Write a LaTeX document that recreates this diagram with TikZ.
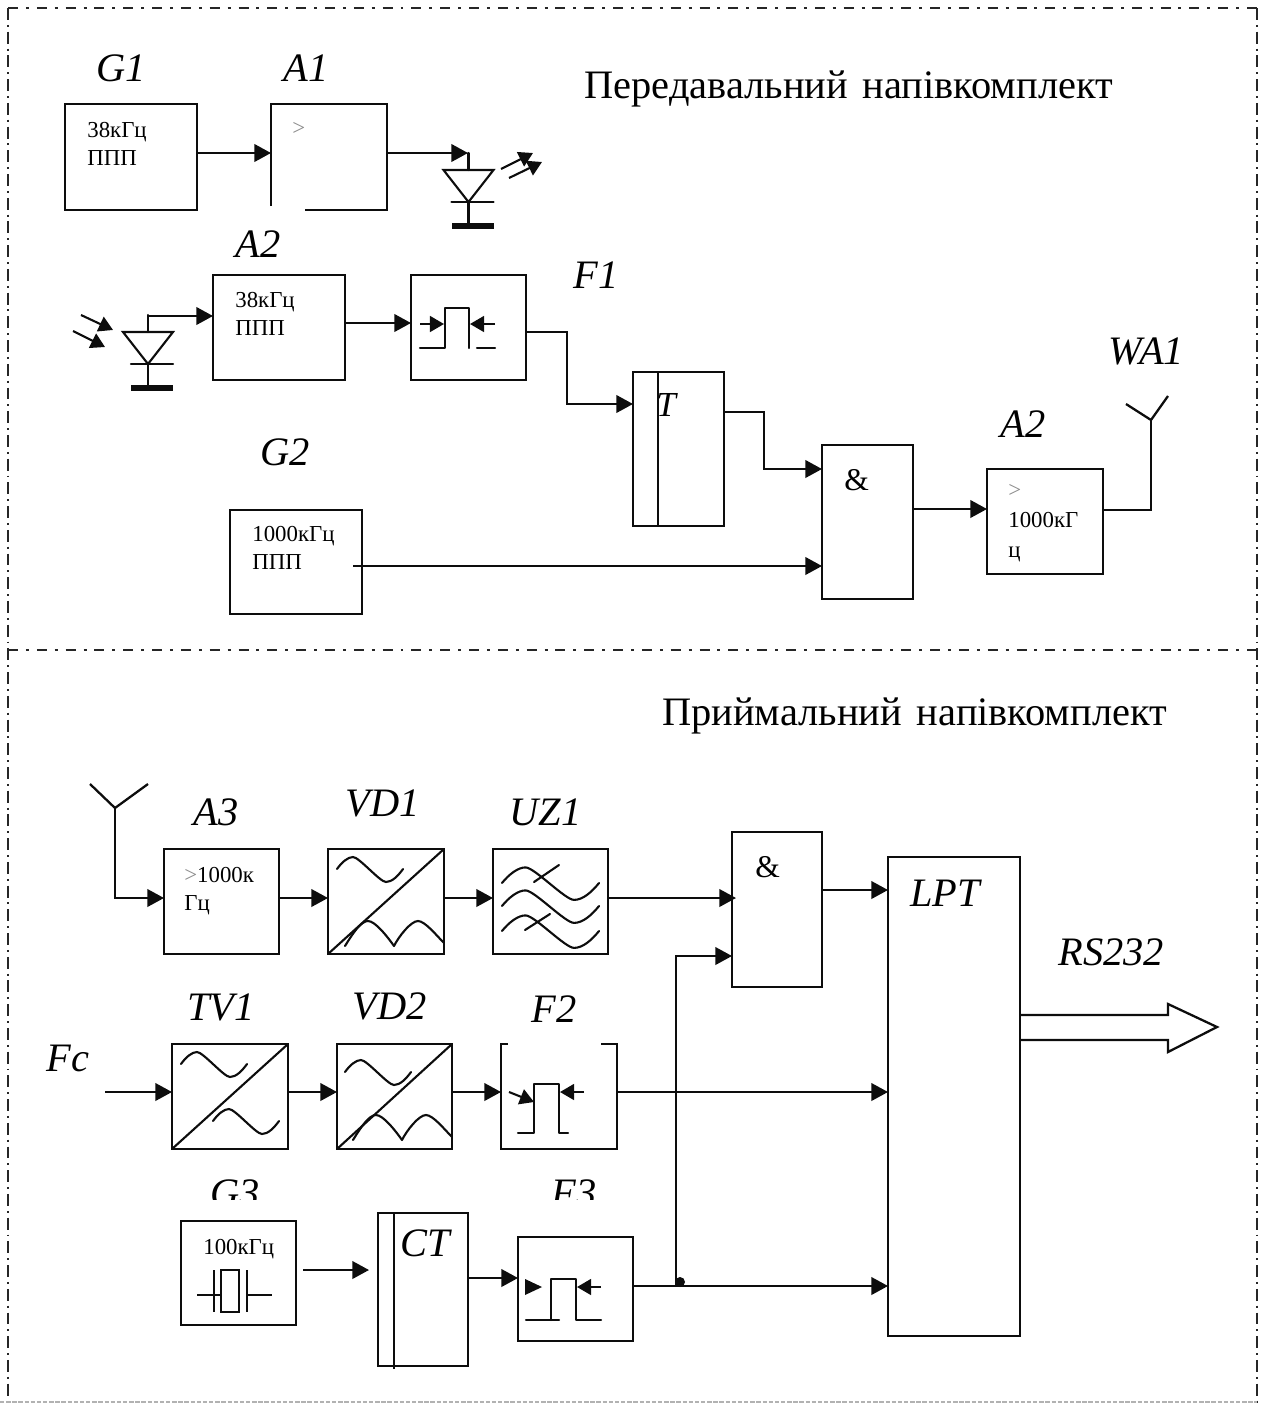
\documentclass[tikz,border=0pt]{standalone}
\usepackage{fontspec}
\setmainfont{Liberation Serif}
\usetikzlibrary{arrows.meta}
\tikzset{
  blockbox/.style 2 args={minimum width=#1*0.02cm, minimum height=#2*0.02cm, inner sep=0pt, outer sep=0pt},
  block/.style 2 args={blockbox={#1}{#2}, draw=black!95, line width=1.3pt},
  wire/.style={line width=1.3pt, draw=black!95, line join=miter},
  flow/.style={wire, -{Triangle[length=9.5pt,width=10pt]}},
  glyph/.style={line width=1.2pt, draw=black!95, line cap=round, line join=round},
  ray/.style={line width=1.2pt, draw=black!95, -{Triangle[length=8pt,width=9pt]}},
  borderh/.style={line width=1.3pt, draw=black!85, dash pattern=on 5.7pt off 4.5pt on 1.7pt off 4.5pt},
  borderv/.style={line width=1.3pt, draw=black!85, dash pattern=on 6.8pt off 2.8pt on 1.1pt off 2.8pt},
  borderfaint/.style={line width=0.9pt, draw=black!30, dash pattern=on 2.5pt off 1pt},
  blocktext/.style={font=\fontsize{13}{15.9}\selectfont, align=left, inner sep=0pt, anchor=north west},
  mark label/.style={font=\fontsize{23}{23}\selectfont\itshape, inner sep=0pt, anchor=base west},
  title label/.style={font=\fontsize{23}{23}\selectfont, inner sep=0pt, anchor=base west},
  pics/wave/.style={code={
    \draw[glyph] (0,0) .. controls (5,-7) and (11,-12) .. (16,-12) .. controls (22,-12) and (43,13) .. (49,13) .. controls (55,13) and (61,7) .. (66,0);
  }},
  pics/rectified/.style={code={
    \draw[glyph] (0,0) .. controls (8,-13) and (16,-25) .. (23,-25) .. controls (30,-25) and (42,-10) .. (49,0) .. controls (54,-10) and (66,-25) .. (73,-25) .. controls (80,-25) and (92,-10) .. (99,-3);
  }},
  pics/diode/.style={code={
    \draw[glyph, line join=miter] (-25,0) -- (25,0) -- (0,32) -- cycle;
    \draw[glyph] (-17,32) -- (25,32);
    \draw[glyph] (0,-17) -- (0,0);
    \draw[glyph] (0,32) -- (0,55);
    \fill[black!95] (-17,53) rectangle (25,59);
  }},
}
\newcommand{\grayarrow}{\textcolor{black!45}{>}}

\begin{document}
\begin{tikzpicture}[x=0.02cm, y=-0.02cm]
\useasboundingbox (0,0) rectangle (1265,1403);
\draw[borderh] (8,8) -- (1257,8);
\draw[borderh] (8,650) -- (1257,650);
\draw[borderv] (8,8) -- (8,1396);
\draw[borderv] (1257,8) -- (1257,1403);
\draw[borderfaint] (0,1402) -- (1257,1402);
\node[title label] (title1) at (584,98) {Передавальний\hspace{0.37em}напівкомплект};
\node[title label] (title2) at (662,725) {Приймальний\hspace{0.37em}напівкомплект};
\node[block={132}{106}] (G1) at (131,157) {};
\node[blockbox={116}{106}] (A1) at (329,157) {};
\node[block={132}{105}] (A2) at (279,327.5) {};
\node[block={115}{105}] (F1) at (468.5,327.5) {};
\node[block={91}{154}] (T) at (678.5,449) {};
\node[block={91}{154}] (AND1) at (867.5,522) {};
\node[block={116}{105}] (A2out) at (1045,521.5) {};
\node[block={132}{104}] (G2) at (296,562) {};
\node[block={115}{105}] (A3) at (221.5,901.5) {};
\node[block={116}{105}] (VD1) at (386,901.5) {};
\node[block={115}{105}] (UZ1) at (550.5,901.5) {};
\node[block={90}{155}] (AND2) at (777,909.5) {};
\node[block={132}{479}] (LPT) at (954,1096.5) {};
\node[block={116}{105}] (TV1) at (230,1096.5) {};
\node[block={115}{105}] (VD2) at (394.5,1096.5) {};
\node[blockbox={116}{105}] (F2) at (559,1096.5) {};
\node[block={115}{104}] (G3) at (238.5,1273) {};
\node[block={90}{153}] (CT) at (423,1289.5) {};
\node[block={115}{104}] (F3) at (575.5,1289) {};
\draw[wire] ([yshift=0.08cm]A1.south west) -- (A1.north west) -- (A1.north east) -- (A1.south east) -- ++(-82,0);
\draw[wire] ([xshift=0.14cm]F2.north west) -- (F2.north west) -- (F2.south west) -- (F2.south east) -- (F2.north east) -- ++(-16,0);
\draw[wire] ([xshift=0.5cm]T.north west) -- ([xshift=0.5cm]T.south west);
\draw[wire] ([xshift=0.32cm]CT.north west) -- ++(0,156);
\node[mark label] (G1label) at (96,81) {G1};
\node[mark label] (A1label) at (283,81) {A1};
\node[mark label] (A2label) at (235,257) {A2};
\node[mark label] (F1label) at (573,288) {F1};
\node[mark label] (G2label) at (260,465) {G2};
\node[mark label] (A2outlabel) at (1000,437) {A2};
\node[mark label] (WA1label) at (1108,364) {WA1};
\node[mark label, font=\fontsize{20}{20}\selectfont\itshape] (Tlabel) at (656,416) {T};
\node[mark label, font=\fontsize{18}{18}\selectfont] (AND1label) at (844,490) {\&};
\node[mark label] (A3label) at (193,825) {A3};
\node[mark label] (VD1label) at (345,816) {VD1};
\node[mark label] (UZ1label) at (509,825) {UZ1};
\node[mark label] (TV1label) at (187,1020) {TV1};
\node[mark label] (VD2label) at (352,1019) {VD2};
\node[mark label] (F2label) at (531,1022) {F2};
\node[mark label] (Fclabel) at (46,1071) {Fc};
\begin{scope}
\clip (150,1150) rectangle (650,1199);
\node[mark label] (G3label) at (210,1206) {G3};
\node[mark label] (F3label) at (551,1206) {F3};
\end{scope}
\node[mark label, font=\fontsize{18}{18}\selectfont] (AND2label) at (755,877) {\&};
\node[mark label] (LPTlabel) at (910,906) {LPT};
\node[mark label] (CTlabel) at (400,1256) {CT};
\node[mark label] (RSlabel) at (1058,965) {RS232};
\node[blocktext] (G1rate) at (87,122) {38кГц\\ППП};
\node[blocktext] (A1sign) at (292,122) {\grayarrow};
\node[blocktext] (A2rate) at (235,292) {38кГц\\ППП};
\node[blocktext] (G2rate) at (252,526) {1000кГц\\ППП};
\node[blocktext] (A2outrate) at (1008,484) {\grayarrow\\[1.2pt]1000кГ\\[1.2pt]ц};
\node[blocktext] (A3rate) at (184,867) {\grayarrow1000к\\Гц};
\node[blocktext] (G3rate) at (203,1239) {100кГц};
\draw[flow] (G1.east |- 0,153) -- (A1.west |- 0,153);
\draw[flow] (A1.east |- 0,153) -- (468,153);
\pic at (468.5,170) {diode};
\coordinate (ledray1) at (501,169);
\coordinate (ledray2) at (509,178);
\draw[ray] (ledray1) -- ++(32,-16);
\draw[ray] (ledray2) -- ++(33,-16);
\pic at (148,332) {diode};
\coordinate (pdtop) at (148,316);
\draw[flow] (pdtop) -- (A2.west |- pdtop);
\coordinate (pdray1) at (81,315);
\coordinate (pdray2) at (73,331);
\draw[ray] (pdray1) -- ++(32,15);
\draw[ray] (pdray2) -- ++(32,16);
\draw[flow] (A2.east |- 0,323) -- (F1.west |- 0,323);
\draw[flow] (F1.east |- 0,332) -- (567,332) -- (567,404) -- (T.west |- 0,404);
\draw[flow] (T.east |- 0,412) -- (764,412) -- (764,469) -- (AND1.west |- 0,469);
\draw[flow] (353,566) -- (AND1.west |- 0,566);
\draw[flow] (AND1.east |- 0,509) -- (A2out.west |- 0,509);
\coordinate (WA1joint) at (1151,420);
\draw[wire] (A2out.east |- 0,510) -- (1151,510) -- (WA1joint);
\draw[wire] (1126,404) -- (WA1joint) -- (1168,396);
\draw[ray] ([shift={(9,49)}]F1.north west) -- ++(24,0);
\draw[ray] ([shift={(84,49)}]F1.north west) -- ++(-25,0);
\draw[glyph] ([shift={(9,73)}]F1.north west) -- ++(25,0) -- ++(0,-40) -- ++(24,0) -- ++(0,40);
\draw[glyph] ([shift={(66,73)}]F1.north west) -- ++(18,0);
\coordinate (A3joint) at (115,808);
\draw[wire] (90,784) -- (A3joint) -- (148,784);
\draw[flow] (A3joint) -- (115,898) -- (A3.west |- 0,898);
\draw[flow] (A3.east |- 0,898) -- (VD1.west |- 0,898);
\draw[flow] (VD1.east |- 0,898) -- (UZ1.west |- 0,898);
\draw[flow] (UZ1.east |- 0,898) -- ([xshift=0.08cm]AND2.west |- 0,898);
\draw[flow] (AND2.east |- 0,890) -- (LPT.west |- 0,890);
\draw[glyph] (VD1.south west) -- (VD1.north east);
\pic at ([shift={(9,20)}]VD1.north west) {wave};
\pic at ([shift={(17,97)}]VD1.north west) {rectified};
\pic[xscale=1.47, yscale=1.3] at ([shift={(9,34)}]UZ1.north west) {wave};
\pic[xscale=1.47, yscale=1.3] at ([shift={(9,57)}]UZ1.north west) {wave};
\pic[xscale=1.47, yscale=1.3] at ([shift={(9,82)}]UZ1.north west) {wave};
\draw[glyph] ([shift={(41,33)}]UZ1.north west) -- ++(25,-17);
\draw[glyph] ([shift={(32,81)}]UZ1.north west) -- ++(25,-16);
\coordinate (Fcin) at (105,1092);
\draw[flow] (Fcin) -- (TV1.west |- Fcin);
\draw[flow] (TV1.east |- Fcin) -- (VD2.west |- Fcin);
\draw[flow] (VD2.east |- Fcin) -- (F2.west |- Fcin);
\draw[flow] (F2.east |- Fcin) -- (LPT.west |- Fcin);
\draw[glyph] (TV1.south west) -- (TV1.north east);
\pic at ([shift={(9,20)}]TV1.north west) {wave};
\pic at ([shift={(41,77)}]TV1.north west) {wave};
\draw[glyph] (VD2.south west) -- (VD2.north east);
\pic at ([shift={(8,28)}]VD2.north west) {wave};
\pic at ([shift={(16,96)}]VD2.north west) {rectified};
\draw[ray] ([shift={(8,48)}]F2.north west) -- ++(25,10);
\draw[ray] ([shift={(83,48)}]F2.north west) -- ++(-24,0);
\draw[glyph] ([shift={(17,89)}]F2.north west) -- ++(16,0) -- ++(0,-49) -- ++(25,0) -- ++(0,49) -- ++(9,0);
\draw[wire] (197,1295) -- (221,1295);
\draw[wire] (214,1270) -- (214,1312);
\draw[wire] (221,1270) rectangle (239,1312);
\draw[wire] (247,1270) -- (247,1312);
\draw[wire] (247,1295) -- (272,1295);
\coordinate (G3out) at (303,1270);
\coordinate (CTin) at (369,1270);
\draw[flow] (G3out) -- (CTin);
\draw[flow] (CT.east |- 0,1278) -- (F3.west |- 0,1278);
\fill[black!95] ([shift={(7,42)}]F3.north west) -- ([shift={(24,50)}]F3.north west) -- ([shift={(7,58)}]F3.north west) -- cycle;
\draw[ray] ([shift={(83,50)}]F3.north west) -- ++(-24,0);
\draw[glyph] ([shift={(8,83)}]F3.north west) -- ++(33,0);
\draw[glyph] ([shift={(33,83)}]F3.north west) -- ++(0,-41) -- ++(25,0) -- ++(0,41) -- ++(25,0);
\draw[flow] (F3.east |- 0,1286) -- (LPT.west |- 0,1286);
\coordinate (busjoint) at (676,1286);
\draw[flow] (busjoint) -- (676,956) -- (AND2.west |- 0,956);
\fill[black!95] (680,1282) circle (5);
\draw[wire, line join=miter] (LPT.east |- 0,1015) -- (1168,1015) -- (1168,1004) -- (1217,1027) -- (1168,1052) -- (1168,1040) -- (LPT.east |- 0,1040);
\end{tikzpicture}
\end{document}
